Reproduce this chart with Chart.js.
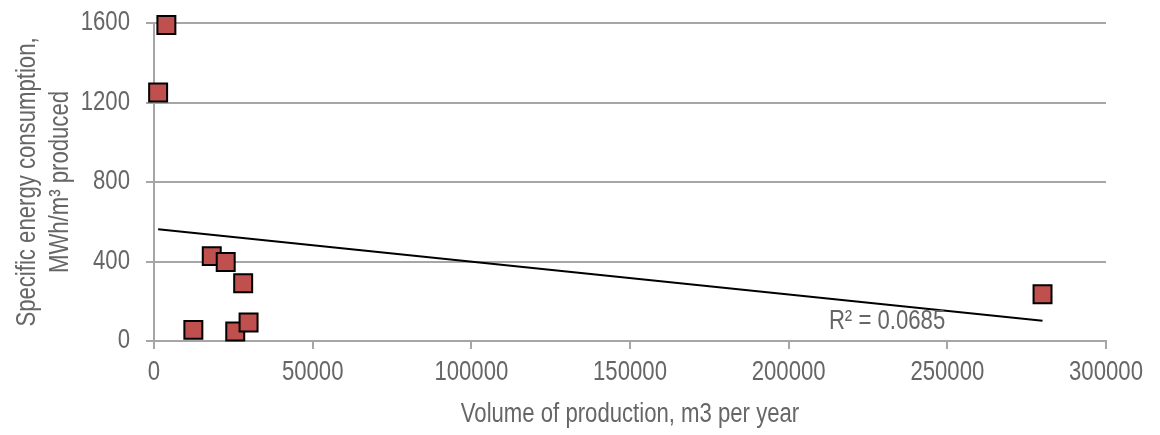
<!DOCTYPE html>
<html>
<head>
<meta charset="utf-8">
<script src="https://cdn.jsdelivr.net/npm/chart.js@4/dist/chart.umd.min.js"></script>
<style>
  html, body { margin: 0; padding: 0; background: #ffffff; }
  #wrap { width: 1160px; height: 435px; }
</style>
</head>
<body>
<div id="wrap"><canvas id="c" width="1160" height="435"></canvas></div>
<script>
// Plant data: annual production volume (m3) and specific energy use (MWh/m3)
const volume = [3900, 1300, 18200, 22600, 28100, 12400, 25600, 29800, 280000];
const consumption = [1590, 1250, 427, 397, 291, 56, 48, 93, 235];

const xTicks = [0, 50000, 100000, 150000, 200000, 250000, 300000];
const yTicks = [0, 400, 800, 1200, 1600];

const xTitle = 'Volume of production, m3 per year';
const yTitle = ['Specific energy consumption,', 'MWh/m\u00B3 produced'];
const r2Label = 'R\u00B2 = 0.0685';
const r2Anchor = [231000, 99]; // data-space anchor for the R² text

// Least-squares linear trend over the points
function linearFit(xs, ys) {
  const n = xs.length;
  const mx = xs.reduce((a, b) => a + b, 0) / n;
  const my = ys.reduce((a, b) => a + b, 0) / n;
  let sxy = 0, sxx = 0;
  for (let i = 0; i < n; i++) {
    sxy += (xs[i] - mx) * (ys[i] - my);
    sxx += (xs[i] - mx) * (xs[i] - mx);
  }
  const slope = sxy / sxx;
  return { slope, intercept: my - slope * mx };
}
const fit = linearFit(volume, consumption);
const xMin = Math.min(...volume), xMax = Math.max(...volume);
const trend = [xMin, xMax].map(x => ({ x, y: fit.intercept + fit.slope * x }));

const FONT = "'Liberation Sans', Arial, sans-serif";
const FONT_SIZE = 27;
const TEXT = '#666666';
const GRID = '#a6a6a6';

// No narrow face is installed, so text is drawn horizontally condensed
// to give an Arial Narrow look.
const NARROW = 0.82;
const canvas = document.getElementById('c');
const ctx2d = canvas.getContext('2d');
const baseFill = ctx2d.fillText.bind(ctx2d);
const baseMeasure = ctx2d.measureText.bind(ctx2d);
ctx2d.fillText = function (text, x, y, maxWidth) {
  this.save();
  this.translate(x, y);
  this.scale(NARROW, 1);
  if (maxWidth === undefined) baseFill(text, 0, 0);
  else baseFill(text, 0, 0, maxWidth / NARROW);
  this.restore();
};
ctx2d.measureText = function (text) {
  const m = baseMeasure(text);
  return {
    width: m.width * NARROW,
    actualBoundingBoxLeft: m.actualBoundingBoxLeft * NARROW,
    actualBoundingBoxRight: m.actualBoundingBoxRight * NARROW,
    actualBoundingBoxAscent: m.actualBoundingBoxAscent,
    actualBoundingBoxDescent: m.actualBoundingBoxDescent,
    fontBoundingBoxAscent: m.fontBoundingBoxAscent,
    fontBoundingBoxDescent: m.fontBoundingBoxDescent
  };
};

const r2Plugin = {
  id: 'r2text',
  afterDatasetsDraw(chart) {
    const { ctx, scales } = chart;
    ctx.save();
    ctx.font = FONT_SIZE + 'px ' + FONT;
    ctx.fillStyle = TEXT;
    ctx.textAlign = 'center';
    ctx.textBaseline = 'middle';
    ctx.fillText(r2Label, scales.x.getPixelForValue(r2Anchor[0]), scales.y.getPixelForValue(r2Anchor[1]));
    ctx.restore();
  }
};

new Chart(canvas, {
  type: 'scatter',
  data: {
    datasets: [
      {
        type: 'line',
        data: trend,
        borderColor: '#000000',
        borderWidth: 2,
        pointRadius: 0,
        fill: false,
        order: 0
      },
      {
        data: volume.map((x, i) => ({ x, y: consumption[i] })),
        pointStyle: 'rect',
        pointRadius: 12.7,
        pointHoverRadius: 12.7,
        backgroundColor: '#c0504d',
        borderColor: '#000000',
        borderWidth: 2,
        clip: false,
        order: 1
      }
    ]
  },
  options: {
    responsive: false,
    devicePixelRatio: 1,
    animation: false,
    layout: { autoPadding: false, padding: { top: 23, right: 54, left: 0, bottom: 0 } },
    plugins: { legend: { display: false }, tooltip: { enabled: false } },
    scales: {
      x: {
        type: 'linear',
        min: 0,
        max: 300000,
        afterBuildTicks(scale) { scale.ticks = xTicks.map(v => ({ value: v })); },
        afterFit(scale) { scale.height = 94; },
        grid: { drawOnChartArea: false, drawTicks: true, tickLength: 8, color: GRID, lineWidth: 2 },
        border: { display: true, color: GRID, width: 2 },
        ticks: { color: TEXT, font: { family: FONT, size: FONT_SIZE }, padding: 7, maxRotation: 0, autoSkip: false, callback: v => String(v) },
        title: { display: true, text: xTitle, color: TEXT, font: { family: FONT, size: FONT_SIZE, lineHeight: 1.2 }, padding: { bottom: 4, top: 0 } }
      },
      y: {
        type: 'linear',
        min: 0,
        max: 1600,
        afterBuildTicks(scale) { scale.ticks = yTicks.map(v => ({ value: v })); },
        afterFit(scale) {
          scale.width = 154;
          scale.paddingTop = 23;
          scale.paddingBottom = 0;
        },
        grid: { drawOnChartArea: true, drawTicks: true, tickLength: 8, color: GRID, lineWidth: 2 },
        border: { display: true, color: GRID, width: 2 },
        ticks: { color: TEXT, font: { family: FONT, size: FONT_SIZE }, padding: 16, callback: v => String(v) },
        title: { display: true, text: yTitle, color: TEXT, font: { family: FONT, size: FONT_SIZE, lineHeight: 1.23 }, padding: { top: 10.5, bottom: 0 } }
      }
    }
  },
  plugins: [r2Plugin]
});
</script>
</body>
</html>
